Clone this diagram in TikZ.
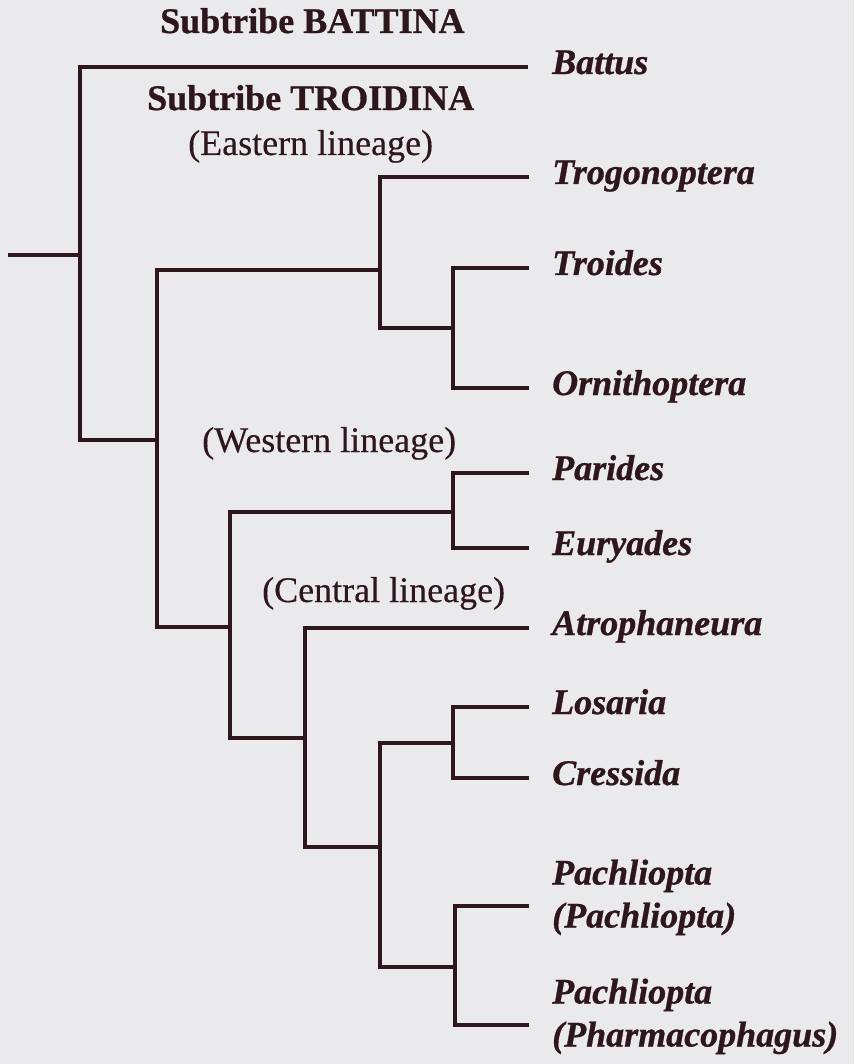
\documentclass[tikz,border=0pt]{standalone}
\usepackage{fontspec}
\setmainfont{Liberation Serif}
\newfontfamily\heavyfont[FakeBold=0.8]{Liberation Serif}
\newfontfamily\linfont[FakeBold=0.3]{Liberation Serif}
\definecolor{ink}{RGB}{45,22,28}
\definecolor{paper}{RGB}{234,234,236}
\begin{document}
\begin{tikzpicture}[x=1pt,y=-1pt,
  tree/.style={draw=ink, line width=3.7pt, line join=miter},
  leaf/.style={anchor=west, inner sep=0pt, text height=14pt, text depth=0pt, text=ink,
    font=\heavyfont\fontsize{36}{43}\selectfont\bfseries\itshape},
  leaftwo/.style={anchor=west, inner sep=0pt, align=left, text height=43pt, text depth=0pt, text=ink,
    font=\heavyfont\fontsize{36}{43}\selectfont\bfseries\itshape},
  head/.style={anchor=base west, inner sep=0pt, text=ink,
    font=\heavyfont\fontsize{36}{43}\selectfont\bfseries},
  lineage/.style={anchor=base west, inner sep=0pt, text=ink,
    font=\linfont\fontsize{36}{43}\selectfont}]
\useasboundingbox (0,0) rectangle (854,1064);
\fill[paper] (0,0) rectangle (854,1064);

% headings
\node[head] (hbat) at (160,33) {Subtribe BATTINA};
\node[head] (htro) at (147,110) {Subtribe TROIDINA};
\node[lineage] (least) at (188,155) {(Eastern lineage)};
\node[lineage] (lwest) at (202,452) {(Western lineage)};
\node[lineage] (lcent) at (262,602) {(Central lineage)};

% leaves
\node[leaf] (battus) at (552,67) {Battus};
\node[leaf] (trogon) at (552,177) {Trogonoptera};
\node[leaf] (troides) at (552,268) {Troides};
\node[leaf] (ornith) at (552,388) {Ornithoptera};
\node[leaf] (parides) at (552,473) {Parides};
\node[leaf] (euryades) at (552,548) {Euryades};
\node[leaf] (atroph) at (552,628) {Atrophaneura};
\node[leaf] (losaria) at (552,707) {Losaria};
\node[leaf] (cressida) at (552,778) {Cressida};
\node[leaftwo] (pachP) at (552,906) {Pachliopta\\(Pachliopta)};
\node[leaftwo] (pachPh) at (552,1025) {Pachliopta\\(Pharmacophagus)};

% internal nodes
\coordinate (root) at (8,255);
\coordinate (n0) at (80,255);
\coordinate (nT) at (157,440);
\coordinate (nE) at (380,270);
\coordinate (nTO) at (453,328);
\coordinate (nWC) at (230,627);
\coordinate (nW) at (453,512);
\coordinate (nC) at (305,738);
\coordinate (nLCP) at (380,847);
\coordinate (nLC) at (453,743);
\coordinate (nP) at (455,967);

% branches
\draw[tree] (root) -- (n0);
\draw[tree] (n0) |- ([xshift=-24pt]battus.west);
\draw[tree] (n0) |- (nT);
\draw[tree] (nT) |- (nE);
\draw[tree] (nT) |- (nWC);
\draw[tree] (nE) |- ([xshift=-23pt]trogon.west);
\draw[tree] (nE) |- (nTO);
\draw[tree] (nTO) |- ([xshift=-23pt]troides.west);
\draw[tree] (nTO) |- ([xshift=-23pt]ornith.west);
\draw[tree] (nWC) |- (nW);
\draw[tree] (nWC) |- (nC);
\draw[tree] (nW) |- ([xshift=-23pt]parides.west);
\draw[tree] (nW) |- ([xshift=-23pt]euryades.west);
\draw[tree] (nC) |- ([xshift=-23pt]atroph.west);
\draw[tree] (nC) |- (nLCP);
\draw[tree] (nLCP) |- (nLC);
\draw[tree] (nLCP) |- (nP);
\draw[tree] (nLC) |- ([xshift=-23pt]losaria.west);
\draw[tree] (nLC) |- ([xshift=-23pt]cressida.west);
\draw[tree] (nP) |- ([xshift=-23pt]pachP.west);
\draw[tree] (nP) |- ([xshift=-23pt]pachPh.west);
\end{tikzpicture}
\end{document}
